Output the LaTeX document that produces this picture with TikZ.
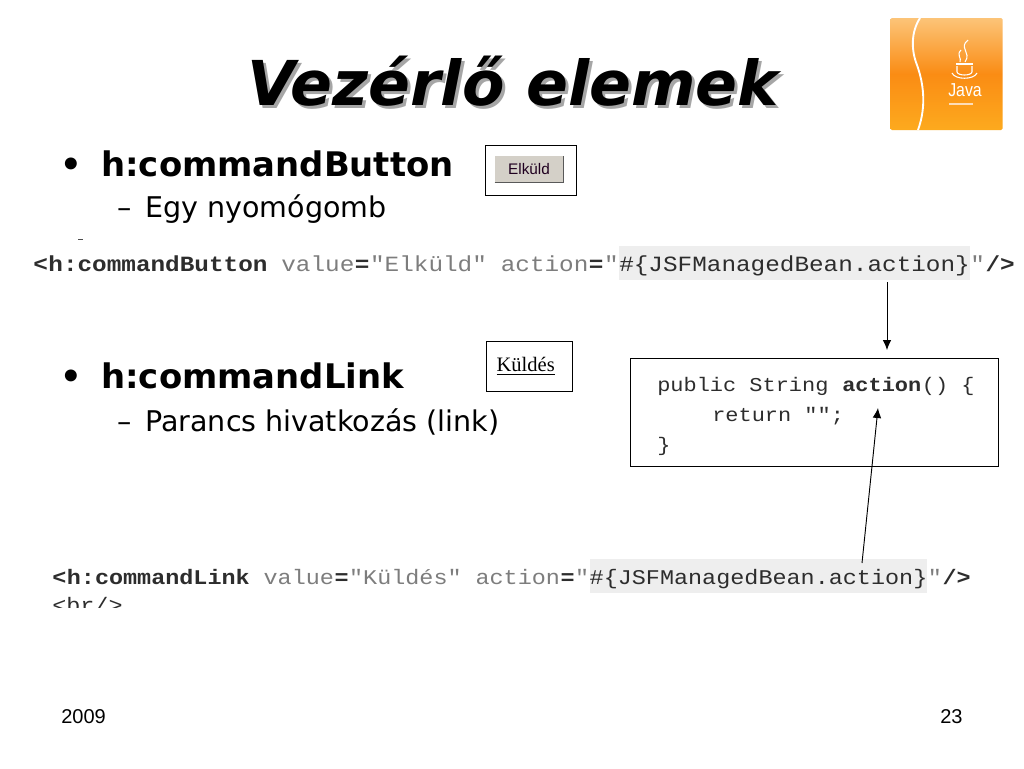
\documentclass[tikz,border=0pt]{standalone}
\usepackage{fontspec}
\usepackage{tikz}
\usetikzlibrary{positioning, shapes, arrows.meta, calc}
\setmainfont{DejaVu Sans}
\newfontfamily\codefont[FakeStretch=1.12]{Liberation Mono}
\newfontfamily\footfont{Liberation Sans}
\newfontfamily\javafont[FakeStretch=0.85]{Liberation Sans}
\newfontfamily\linkfont{Liberation Serif}
\definecolor{javaorange}{RGB}{250, 140, 20}
\definecolor{javalight}{RGB}{252, 196, 120}
\definecolor{javalow}{RGB}{253, 170, 30}
\definecolor{beangray}{RGB}{238, 238, 238}
\definecolor{valgray}{RGB}{125, 125, 125}
\definecolor{codeink}{RGB}{45, 45, 45}
\definecolor{btnface}{RGB}{212, 208, 200}

\begin{document}
\begin{tikzpicture}[x=0.75pt, y=-0.75pt, >={Latex[length=7.5pt,width=6.5pt]}]
    \tikzstyle{head} = [inner sep=0pt, anchor=base west, font=\fontsize{25.4pt}{30pt}\selectfont\bfseries]
    \tikzstyle{sub} = [inner sep=0pt, anchor=base west, font=\fontsize{21.4pt}{25pt}\selectfont]
    \tikzstyle{foot} = [inner sep=0pt, anchor=base west, font=\fontsize{15pt}{18pt}\selectfont\footfont]
    \tikzstyle{frame} = [rectangle, draw=black, fill=white, line width=0.6pt, inner sep=0pt]
    \tikzstyle{code} = [inner sep=0pt, anchor=base west, text=codeink, font=\fontsize{16.3pt}{20pt}\selectfont\codefont, text height=11pt, text depth=3pt]
    \tikzstyle{codeval} = [code, text=valgray]
    \tikzstyle{codekey} = [code, font=\fontsize{16.3pt}{20pt}\selectfont\codefont\bfseries]
    \tikzstyle{bean} = [code, fill=beangray, text height=18.75pt, text depth=6.5pt]
    \tikzstyle{codeb} = [code, font=\fontsize{15.7pt}{20pt}\selectfont\codefont]
    \tikzstyle{codebval} = [codeb, text=valgray]
    \tikzstyle{codebkey} = [codeb, font=\fontsize{15.7pt}{20pt}\selectfont\codefont\bfseries]
    \tikzstyle{beanb} = [codeb, fill=beangray, text height=18.75pt, text depth=6.75pt]
    \tikzstyle{small} = [code, font=\fontsize{14.7pt}{18pt}\selectfont\codefont]
    \tikzstyle{link} = [->, line width=0.7pt, black]
    \tikzstyle{cup} = [white, line width=0.8pt]

    \useasboundingbox (0,0) rectangle (1024,768);
    \fill[white] (0,0) rectangle (1024,768);

    % title with its shadow
    \node[font=\fontsize{46.4pt}{54pt}\selectfont\bfseries\itshape, text=black!35, inner sep=0pt] (titleshadow) at (516,84) {Vezérlő elemek};
    \node[font=\fontsize{46.4pt}{54pt}\selectfont\bfseries\itshape, inner sep=0pt] (title) at (513,81) {Vezérlő elemek};

    % java logo
    \node[rectangle, inner sep=0pt, minimum width=84pt, minimum height=84pt, top color=javalight, bottom color=javalow, middle color=javaorange, rounded corners=1pt] (logo) at (946.5,74) {};
    \draw[white, line width=1.4pt] (920,18) .. controls (911,32) and (911,50) .. (917,65) .. controls (923,82) and (927,105) .. (918,130);
    \node[text=white, inner sep=0pt, font=\fontsize{14pt}{16pt}\selectfont\javafont] (javaword) at (965,90) {Java};
    \draw[cup] (957,66) -- (957,72) .. controls (958,76) and (971,76) .. (972,72) -- (972,66);
    \draw[cup] (956,64) -- (973,64);
    \draw[cup] (952,73) .. controls (955,80) and (974,80) .. (977,73);
    \draw[cup] (968,40) .. controls (958,48) and (972,52) .. (965,62);
    \draw[cup] (961,50) .. controls (956,55) and (962,58) .. (960,62);
    \draw[white!70!javaorange, line width=0.8pt] (949,104) -- (973,104);

    % left column
    \node[head] (bulleta) at (60,176) {•};
    \node[head] (button) at (101,176) {h:commandButton};
    \node[sub] (dasha) at (117,217) {–};
    \node[sub] (egy) at (145,217) {Egy nyomógomb};
    \node[head] (bulletb) at (60,388) {•};
    \node[head] (linkhead) at (101,388) {h:commandLink};
    \node[sub] (dashb) at (117,431) {–};
    \node[sub] (parancs) at (145,431) {Parancs hivatkozás (link)};

    % sample button
    \node[frame, minimum width=68pt, minimum height=38pt] (btnframe) at (531,170.5) {};
    \node[rectangle, fill=btnface, inner sep=0pt, minimum width=51pt, minimum height=19.5pt, font=\fontsize{11.5pt}{14pt}\selectfont\footfont, text=black!75!violet] (btn) at (529,169) {Elküld};
    \draw[black!65, line width=1pt] (btn.south west) -- (btn.south east) -- (btn.north east);

    % sample link
    \node[frame, minimum width=64.5pt, minimum height=37.5pt, font=\fontsize{15.4pt}{18pt}\selectfont\linkfont] (linkframe) at (529,366) {\underline{Küldés}\kern5pt\relax};

    % first code line
    \node[codekey] (tagA) at (33,271) {<};
    \node[codekey, base right=0pt of tagA] (nameA) {h:commandButton};
    \node[codeval, base right=10pt of nameA] (valA) {value};
    \node[codekey, base right=0pt of valA] (eqA) {=};
    \node[codeval, base right=0pt of eqA] (strA) {"Elküld"};
    \node[codeval, base right=10pt of strA] (actA) {action};
    \node[codekey, base right=0pt of actA] (eqB) {=};
    \node[codeval, base right=0pt of eqB] (quoteA) {"};
    \node[bean, base right=0pt of quoteA] (beanA) {\#\{JSFManagedBean.action\}};
    \node[codeval, base right=0pt of beanA] (quoteB) {"};
    \node[codekey, base right=0pt of quoteB] (endA) {/>};

    % second code line
    \node[codebkey] (tagB) at (52,584) {<};
    \node[codebkey, base right=0pt of tagB] (nameB) {h:commandLink};
    \node[codebval, base right=10pt of nameB] (valB) {value};
    \node[codebkey, base right=0pt of valB] (eqC) {=};
    \node[codebval, base right=0pt of eqC] (strB) {"Küldés"};
    \node[codebval, base right=10pt of strB] (actB) {action};
    \node[codebkey, base right=0pt of actB] (eqD) {=};
    \node[codebval, base right=0pt of eqD] (quoteC) {"};
    \node[beanb, base right=0pt of quoteC] (beanB) {\#\{JSFManagedBean.action\}};
    \node[codebval, base right=0pt of beanB] (quoteD) {"};
    \node[codebkey, base right=0pt of quoteD] (endB) {/>};

    % clipped line under it
    \begin{scope}
        \clip (40,596) rectangle (200,607);
        \node[codeb] (brtag) at (52,612) {<br/>};
    \end{scope}
    \draw[black!70, line width=0.6pt] (78,239) -- (83,239);

    % method box
    \node[frame, minimum width=275.5pt, minimum height=81pt] (method) at (814.5,412) {};
    \node[small] (sigA) at (657,391) {public String};
    \node[small, font=\fontsize{14.7pt}{18pt}\selectfont\codefont\bfseries, base right=9.9pt of sigA] (sigB) {action};
    \node[small, base right=0pt of sigB] (sigC) {() \{};
    \node[small] (sigD) at (712,421) {return "";};
    \node[small] (sigE) at (657,451) {\}};

    % connectors
    \coordinate (fromA) at (887,282);
    \coordinate (toA) at (887,350);
    \coordinate (fromB) at (862,563);
    \coordinate (toB) at (878,408);
    \draw[link] (fromA) -- (toA);
    \draw[link] (fromB) -- (toB);

    % footer
    \node[foot] (year) at (61,723) {2009};
    \node[foot] (page) at (940,723) {23};
\end{tikzpicture}
\end{document}
